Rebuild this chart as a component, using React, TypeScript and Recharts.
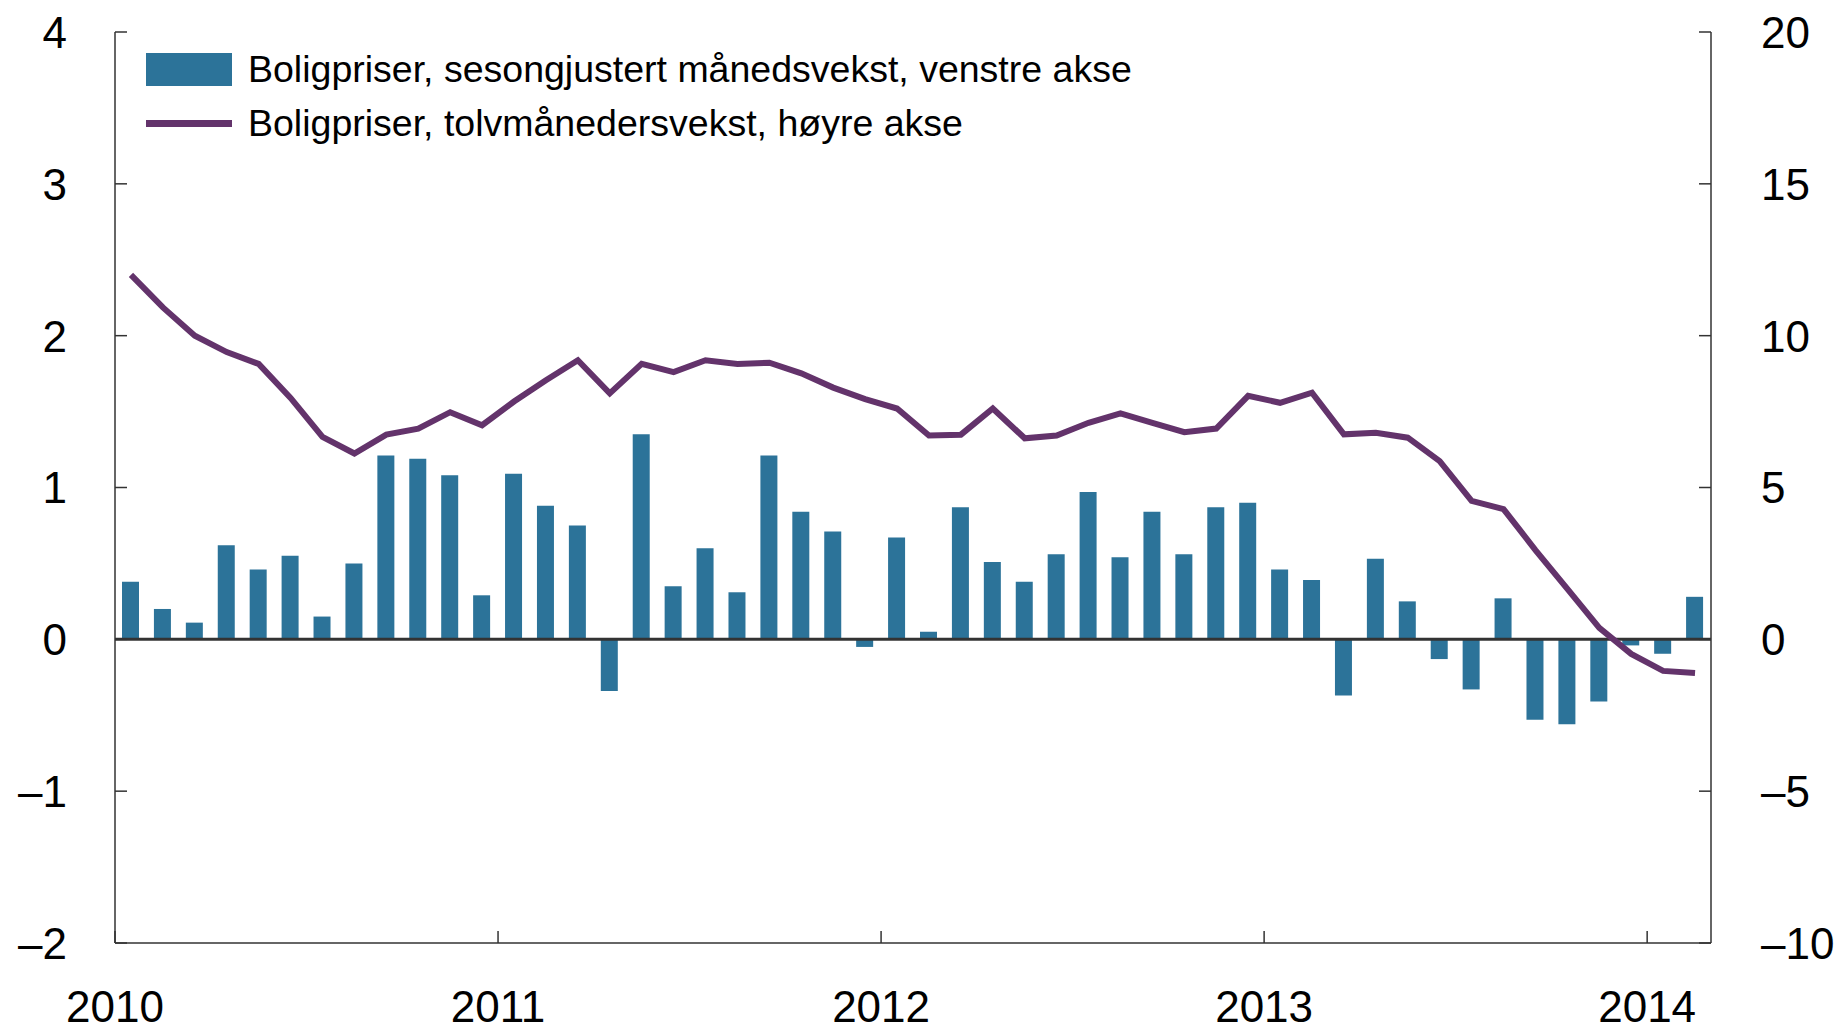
import {
  Bar, ComposedChart, Legend, Line, ReferenceLine, XAxis, YAxis,
} from 'recharts'

const BLUE = '#2c7399'
const PURPLE = '#63336b'
const FRAME = '#333333'
const FONT = '"Liberation Sans", Arial, Helvetica, sans-serif'

// months from Jan 2010 to Feb 2014
const startYear = 2010
const monthly = [
  0.38, 0.20, 0.11, 0.62, 0.46, 0.55, 0.15, 0.50, 1.21, 1.19, 1.08, 0.29,
  1.09, 0.88, 0.75, -0.34, 1.35, 0.35, 0.60, 0.31, 1.21, 0.84, 0.71, -0.05,
  0.67, 0.05, 0.87, 0.51, 0.38, 0.56, 0.97, 0.54, 0.84, 0.56, 0.87, 0.90,
  0.46, 0.39, -0.37, 0.53, 0.25, -0.13, -0.33, 0.27, -0.53, -0.56, -0.41, -0.04,
  -0.095, 0.28,
]
const twelveMonth = [
  12.0, 10.93, 10.0, 9.46, 9.07, 7.95, 6.67, 6.12, 6.74, 6.94, 7.48, 7.05,
  7.83, 8.53, 9.19, 8.1, 9.07, 8.8, 9.19, 9.07, 9.11, 8.76, 8.29, 7.91,
  7.6, 6.71, 6.74, 7.6, 6.62, 6.71, 7.13, 7.44, 7.13, 6.82, 6.94, 8.02,
  7.79, 8.12, 6.75, 6.8, 6.64, 5.87, 4.56, 4.29, 2.94, 1.66, 0.38, -0.48,
  -1.04, -1.11,
]
const leftTicks = [-2, -1, 0, 1, 2, 3, 4]
const rightTicks = [-10, -5, 0, 5, 10, 15, 20]
const yearTicks = [0, 12, 24, 36, 48]

const data = monthly.map((m, i) => ({ t: i + 0.5, monthly: m, twelve: twelveMonth[i] }))

const fmt = (v: number) => (v < 0 ? `–${Math.abs(v)}` : `${v}`)

function LeftTick({ x, y, payload }: any) {
  return (
    <g>
      <line x1={x} x2={x + 12} y1={y} y2={y} stroke={FRAME} strokeWidth={1.5} />
      <text x={x - 48} y={y} dy="0.36em" textAnchor="end" fontSize={44} fontFamily={FONT} fill="#000">
        {fmt(payload.value)}
      </text>
    </g>
  )
}

function RightTick({ x, y, payload }: any) {
  return (
    <g>
      <line x1={x - 12} x2={x} y1={y} y2={y} stroke={FRAME} strokeWidth={1.5} />
      <text x={x + 50} y={y} dy="0.36em" textAnchor="start" fontSize={44} fontFamily={FONT} fill="#000">
        {fmt(payload.value)}
      </text>
    </g>
  )
}

function YearTick({ x, y, payload }: any) {
  return (
    <g>
      <line x1={x} x2={x} y1={y - 12} y2={y} stroke={FRAME} strokeWidth={1.5} />
      <text x={x} y={y + 79} textAnchor="middle" fontSize={44} fontFamily={FONT} fill="#000">
        {startYear + payload.value / 12}
      </text>
    </g>
  )
}

function LegendBox() {
  return (
    <div style={{ fontFamily: FONT, fontSize: 37.5, color: '#000', lineHeight: '54px' }}>
      <div style={{ display: 'flex', alignItems: 'center' }}>
        <span style={{ display: 'inline-block', width: 86, height: 33, background: BLUE, marginRight: 16 }} />
        Boligpriser, sesongjustert månedsvekst, venstre akse
      </div>
      <div style={{ display: 'flex', alignItems: 'center' }}>
        <span style={{ display: 'inline-block', width: 86, height: 7, background: PURPLE, marginRight: 16 }} />
        Boligpriser, tolvmånedersvekst, høyre akse
      </div>
    </div>
  )
}

export default function App() {
  return (
    <div style={{ position: 'absolute', left: 0, top: 0, background: '#fff' }}>
      <ComposedChart width={1845} height={1030} data={data} margin={{ top: 32, right: 0, left: 0, bottom: 0 }}>
        <XAxis
          dataKey="t" type="number" domain={[0, 50]} ticks={yearTicks} interval={0}
          height={87} tickSize={0} tickMargin={0} tickLine={false}
          axisLine={{ stroke: FRAME, strokeWidth: 1.5 }} tick={<YearTick />}
        />
        <XAxis
          xAxisId="top" dataKey="t" type="number" domain={[0, 50]} orientation="top"
          height={0} tick={false} tickLine={false} axisLine={{ stroke: FRAME, strokeWidth: 1.5 }}
        />
        <YAxis
          yAxisId="left" domain={[-2, 4]} ticks={leftTicks} interval={0} width={115}
          tickSize={0} tickMargin={0} tickLine={false}
          axisLine={{ stroke: FRAME, strokeWidth: 1.5 }} tick={<LeftTick />}
        />
        <YAxis
          yAxisId="right" orientation="right" domain={[-10, 20]} ticks={rightTicks} interval={0} width={134}
          tickSize={0} tickMargin={0} tickLine={false}
          axisLine={{ stroke: FRAME, strokeWidth: 1.5 }} tick={<RightTick />}
        />
        <Legend
          layout="vertical" align="center" verticalAlign="middle"
          wrapperStyle={{ left: 146, top: 42, width: 'auto' }}
          content={<LegendBox />}
        />
        <Bar yAxisId="left" dataKey="monthly" fill={BLUE} barSize={17} isAnimationActive={false} />
        <ReferenceLine yAxisId="left" y={0} stroke={FRAME} strokeWidth={3} />
        <Line
          yAxisId="right" dataKey="twelve" type="linear" stroke={PURPLE} strokeWidth={6}
          dot={false} activeDot={false} isAnimationActive={false}
        />
      </ComposedChart>
    </div>
  )
}
